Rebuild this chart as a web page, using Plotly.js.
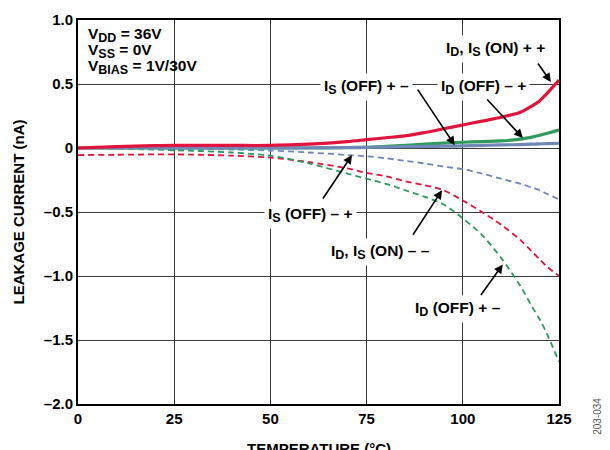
<!DOCTYPE html>
<html>
<head>
<meta charset="utf-8">
<script src="https://cdn.plot.ly/plotly-3.0.1.min.js"></script>
<style>html,body{margin:0;padding:0;background:#fff;}#chart{width:610px;height:450px;}</style>
</head>
<body>
<div id="chart"></div>
<script>
// Temperature (°C)
const temp = [0, 10, 20, 25, 30, 40, 50, 60, 70, 75, 80, 85, 90, 95, 100, 105, 110, 115, 118, 120, 122, 125];
// Solid curves
const onPP    = [0.0, 0.01, 0.018, 0.02, 0.02, 0.02, 0.02, 0.03, 0.05, 0.065, 0.08, 0.095, 0.12, 0.15, 0.18, 0.21, 0.24, 0.28, 0.33, 0.37, 0.43, 0.53];
const idOffMP = [0.0, 0.0, 0.0, 0.0, 0.0, 0.0, 0.0, 0.0, 0.003, 0.005, 0.012, 0.02, 0.03, 0.038, 0.045, 0.05, 0.055, 0.07, 0.085, 0.10, 0.115, 0.14];
const isOffPM = [0.0, 0.0, 0.0, 0.0, 0.0, 0.0, 0.0, 0.002, 0.004, 0.005, 0.007, 0.01, 0.012, 0.014, 0.016, 0.02, 0.024, 0.027, 0.03, 0.032, 0.034, 0.037];
// Dashed curves
const isOffMP = [0.0, 0.0, -0.003, -0.005, -0.007, -0.012, -0.02, -0.035, -0.055, -0.065, -0.08, -0.1, -0.12, -0.145, -0.165, -0.2, -0.24, -0.28, -0.31, -0.33, -0.36, -0.4];
const onMM    = [-0.055, -0.053, -0.05, -0.05, -0.052, -0.06, -0.075, -0.11, -0.16, -0.195, -0.22, -0.26, -0.29, -0.33, -0.41, -0.5, -0.6, -0.72, -0.81, -0.87, -0.93, -1.0];
const idOffPM = [0.0, -0.005, -0.012, -0.018, -0.022, -0.035, -0.06, -0.12, -0.2, -0.24, -0.28, -0.33, -0.38, -0.44, -0.55, -0.68, -0.86, -1.08, -1.24, -1.34, -1.46, -1.67];

const yTickVals = [1.0, 0.5, 0, -0.5, -1.0, -1.5, -2.0];
const yTickText = ['1.0', '0.5', '0', '–0.5', '–1.0', '–1.5', '–2.0'];
const xTickVals = [0, 25, 50, 75, 100, 125];

const RED = '#e0143c', GREEN = '#2f9a5c', BLUE = '#7088b8';
const FONT = 'Liberation Sans, Arial, sans-serif';

function tr(y, color, dash, width) {
  return {x: temp, y: y, type: 'scatter', mode: 'lines',
    line: {color: color, width: width, dash: dash, shape: 'spline', smoothing: 0.8},
    hoverinfo: 'skip', showlegend: false};
}

const data = [
  tr(isOffMP, BLUE, '6px,4px', 1.8),
  tr(onMM, RED, '6px,4px', 1.8),
  tr(idOffPM, GREEN, '6px,4px', 1.8),
  tr(idOffMP, GREEN, 'solid', 3.2),
  tr(isOffPM, BLUE, 'solid', 3.2),
  tr(onPP, RED, 'solid', 3.2)
];

const tfont = {family: FONT, size: 15.5, color: '#000', weight: 'bold'};
const titlefont = {family: FONT, size: 15, color: '#000', weight: 'bold'};
const tickfont = {family: FONT, size: 15, color: '#000', weight: 'bold'};
function S(t) { return '<sub><span style="font-size:12.5px">' + t + '</span></sub>'; }
function lab(text, x, y) {
  return {text: text, x: x, y: y, xref: 'x', yref: 'y', showarrow: false,
    font: tfont, bgcolor: '#fff', borderpad: 3, xanchor: 'center', yanchor: 'middle'};
}
function cond(text, y) {
  return {text: text, x: 2, y: y, xref: 'x', yref: 'y', xanchor: 'left', yanchor: 'middle',
    showarrow: false, font: tfont};
}
function arr(x, y, ax, ay) {
  return {text: '', x: x, y: y, xref: 'x', yref: 'y', ax: ax, ay: ay,
    showarrow: true, arrowhead: 2, arrowsize: 1.1, arrowwidth: 1.6, arrowcolor: '#000'};
}

const annotations = [
  cond('V' + S('DD') + ' = 36V', 0.885),
  cond('V' + S('SS') + ' = 0V', 0.76),
  cond('V' + S('BIAS') + ' = 1V/30V', 0.635),
  lab('I' + S('D') + ', I' + S('S') + ' (ON) + +', 108.4, 0.775),
  lab('I' + S('S') + ' (OFF) + –', 75.1, 0.475),
  lab('I' + S('D') + ' (OFF) – +', 105.5, 0.475),
  lab('I' + S('S') + ' (OFF) – +', 60.5, -0.52),
  lab('I' + S('D') + ', I' + S('S') + ' (ON) – –', 78.7, -0.81),
  lab('I' + S('D') + ' (OFF) + –', 98.8, -1.26),
  arr(122.9, 0.516, -14, -20),
  arr(97.9, 0.022, -38, -57),
  arr(115.6, 0.078, -37, -40),
  arr(71.2, -0.055, -30, 45),
  arr(94.6, -0.33, -30, 46),
  arr(110.4, -0.91, -23, 32),
  {text: 'TEMPERATURE (°C)', x: 0.5, y: -0.117, xref: 'paper', yref: 'paper',
   xanchor: 'center', yanchor: 'middle', showarrow: false, font: titlefont},
  {text: '203-034', x: 1.08, y: -0.032, xref: 'paper', yref: 'paper', textangle: -90,
   xanchor: 'center', yanchor: 'middle', showarrow: false,
   font: {family: FONT, size: 10, color: '#555'}}
];

const layout = {
  width: 610, height: 450,
  margin: {l: 78, r: 51, t: 20, b: 46},
  paper_bgcolor: '#fff', plot_bgcolor: '#fff',
  font: {family: FONT, color: '#000'},
  xaxis: {range: [0, 125], tickvals: xTickVals, ticktext: xTickVals.map(String),
    showgrid: true, gridcolor: '#3a3a3a', gridwidth: 1, zeroline: false,
    showline: true, linecolor: '#000', linewidth: 2, mirror: true, ticks: '',
    tickfont: tickfont},
  yaxis: {range: [-2.0, 1.0], tickvals: yTickVals, ticktext: yTickText,
    showgrid: true, gridcolor: '#3a3a3a', gridwidth: 1, zeroline: false,
    showline: true, linecolor: '#000', linewidth: 2, mirror: true, ticks: '',
    tickfont: tickfont,
    title: {text: 'LEAKAGE CURRENT (nA)', font: titlefont, standoff: 16}},
  annotations: annotations
};

Plotly.newPlot('chart', data, layout, {displayModeBar: false, staticPlot: true});
</script>
</body>
</html>
